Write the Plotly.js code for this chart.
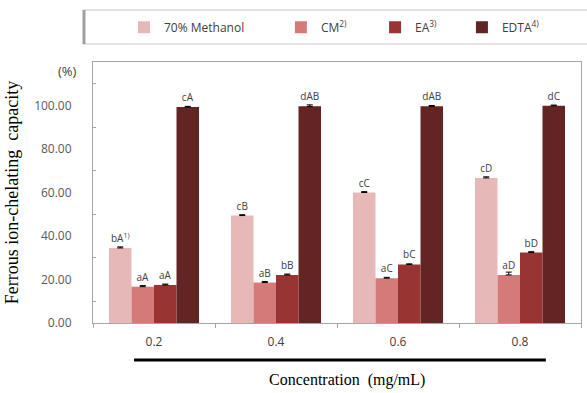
<!DOCTYPE html>
<html>
<head>
<meta charset="utf-8">
<script src="https://cdn.plot.ly/plotly-3.0.1.min.js"></script>
<style>
  html, body { margin: 0; padding: 0; background: #ffffff; }
  #chart { width: 587px; height: 393px; }
</style>
</head>
<body>
<div id="chart"></div>
<script>
// Concentrations (mg/mL)
const concentrations = ['0.2', '0.4', '0.6', '0.8'];

// Ferrous ion-chelating capacity (%) per extract
const methanol70 = [34.5, 49.4, 60.0, 66.7];
const cmExtract  = [16.7, 18.6, 20.6, 22.1];
const eaExtract  = [17.5, 22.1, 26.9, 32.4];
const edta       = [99.3, 99.6, 99.6, 99.9];

// Standard deviations (upper error bars)
const methanol70Sd = [0.5, 0.4, 0.4, 0.5];
const cmExtractSd  = [0.5, 0.5, 0.4, 1.3];
const eaExtractSd  = [0.4, 0.4, 0.3, 0.4];
const edtaSd       = [0.3, 0.7, 0.4, 0.3];
const noLowerError = [0, 0, 0, 0];

// Significance letters above the bars
const methanol70Letters = ['bA<sup>1)</sup>', 'cB', 'cC', 'cD'];
const cmExtractLetters  = ['aA', 'aB', 'aC', 'aD'];
const eaExtractLetters  = ['aA', 'bB', 'bC', 'bD'];
const edtaLetters       = ['cA', 'dAB', 'dAB', 'dC'];

// Series names
const seriesNames = ['70% Methanol', 'CM<sup>2)</sup>', 'EA<sup>3)</sup>', 'EDTA<sup>4)</sup>'];

// Labelled y ticks
const yTickValues = [0, 20, 40, 60, 80, 100];

const colors = ['#E6B9B8', '#D47B79', '#983432', '#632523'];
const sansFont = 'Open Sans, Noto Sans, sans-serif';
const serifFont = 'Liberation Serif, DejaVu Serif, serif';

function barTrace(values, sd, letters, idx, legendId) {
  return {
    type: 'bar',
    name: seriesNames[idx],
    x: concentrations,
    y: values,
    text: letters,
    textposition: 'outside',
    textfont: { family: sansFont, size: 10, color: '#404040' },
    constraintext: 'none',
    cliponaxis: false,
    marker: { color: colors[idx], line: { width: 0 } },
    error_y: {
      type: 'data', array: sd, arrayminus: noLowerError, symmetric: false,
      visible: true, color: '#000000', thickness: 1, width: 3
    },
    legend: legendId,
    hoverinfo: 'x+y+name'
  };
}

const data = [
  barTrace(methanol70, methanol70Sd, methanol70Letters, 0, 'legend'),
  barTrace(cmExtract, cmExtractSd, cmExtractLetters, 1, 'legend2'),
  barTrace(eaExtract, eaExtractSd, eaExtractLetters, 2, 'legend3'),
  barTrace(edta, edtaSd, edtaLetters, 3, 'legend4')
];

function legendAt(x) {
  return {
    x: x, xanchor: 'left', y: 1.133, yanchor: 'middle',
    orientation: 'h', bgcolor: 'rgba(0,0,0,0)', borderwidth: 0,
    font: { family: sansFont, size: 12, color: '#404040' }
  };
}

const layout = {
  width: 587,
  height: 393,
  margin: { l: 93, r: 6, t: 62, b: 70 },
  paper_bgcolor: '#ffffff',
  plot_bgcolor: '#ffffff',
  barmode: 'group',
  bargap: 0.262,
  bargroupgap: 0,
  showlegend: true,
  legend: legendAt(0.0635),
  legend2: legendAt(0.385),
  legend3: legendAt(0.578),
  legend4: legendAt(0.756),
  xaxis: {
    type: 'category',
    showgrid: false,
    zeroline: false,
    showline: true, mirror: true, linecolor: '#A6A6A6', linewidth: 1,
    ticks: 'outside', tickson: 'boundaries', ticklen: 4, tickcolor: '#A6A6A6',
    ticklabelstandoff: 8,
    tickfont: { family: sansFont, size: 12, color: '#404040' }
  },
  yaxis: {
    range: [0, 120],
    tickmode: 'array',
    tickvals: yTickValues,
    tickformat: '.2f',
    showgrid: false,
    zeroline: false,
    showline: true, mirror: true, linecolor: '#A6A6A6', linewidth: 1,
    ticks: '',
    ticklabelstandoff: 18,
    tickfont: { family: sansFont, size: 12, color: '#595959' },
    minor: { ticks: 'inside', tickmode: 'linear', tick0: 10, dtick: 20, ticklen: 3, tickcolor: '#A6A6A6' },
    title: {
      text: 'Ferrous ion-chelating\u00a0 capacity',
      font: { family: serifFont, size: 18, color: '#000000' },
      standoff: 10
    }
  },
  shapes: [
    // legend frame
    { type: 'line', xref: 'paper', yref: 'paper', x0: -0.02, x1: 1.02, y0: 1.199, y1: 1.199,
      line: { color: '#D9D9D9', width: 1.5 } },
    { type: 'line', xref: 'paper', yref: 'paper', x0: -0.02, x1: 1.02, y0: 1.069, y1: 1.069,
      line: { color: '#D9D9D9', width: 1.5 } },
    { type: 'line', xref: 'paper', yref: 'paper', x0: -0.0185, x1: -0.0185, y0: 1.069, y1: 1.199,
      line: { color: '#A0A0A0', width: 3 } },
    // rule under the concentration labels
    { type: 'line', xref: 'paper', yref: 'paper', x0: 0.084, x1: 0.928, y0: -0.1418, y1: -0.1418,
      line: { color: '#000000', width: 3 } }
  ],
  annotations: [
    { text: '(%)', xref: 'paper', yref: 'paper', x: -0.052, y: 0.966, xanchor: 'center', yanchor: 'middle',
      showarrow: false, font: { family: sansFont, size: 13, color: '#404040' } },
    { text: 'Concentration\u00a0 (mg/mL)', xref: 'paper', yref: 'paper', x: 0.521, y: -0.218,
      xanchor: 'center', yanchor: 'middle', showarrow: false,
      font: { family: serifFont, size: 16, color: '#000000' } }
  ]
};

Plotly.newPlot('chart', data, layout, { displayModeBar: false, staticPlot: true });
</script>
</body>
</html>
